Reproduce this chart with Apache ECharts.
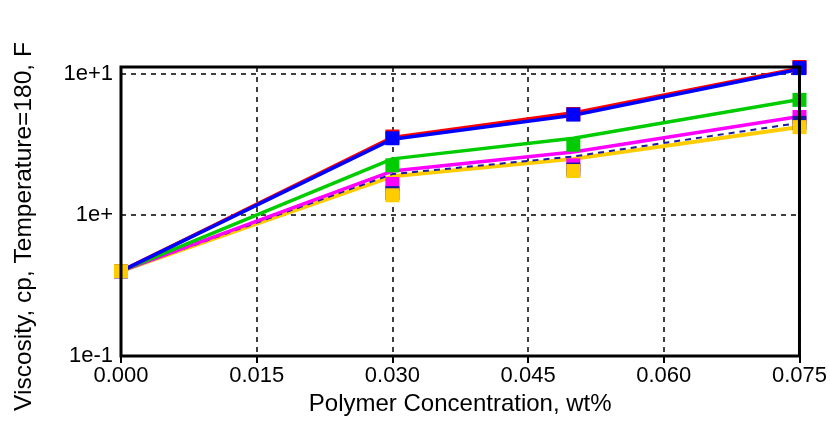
<!DOCTYPE html>
<html>
<head>
<meta charset="utf-8">
<script src="https://cdn.jsdelivr.net/npm/echarts@6/dist/echarts.min.js"></script>
<style>html,body{margin:0;padding:0;background:#fff;}#c{width:830px;height:421px;}</style>
</head>
<body>
<div id="c"></div>
<script>
const xValues = [0, 0.03, 0.05, 0.075];
const xTicks = [0, 0.015, 0.03, 0.045, 0.06, 0.075];
const yTickLabels = {"0.1": "1e-1", "1": "1e+", "10": "1e+1"};

// fitted lines
const lineRed     = [0.4, 3.55, 5.3, 11.0];
const lineBlue    = [0.4, 3.45, 5.1, 10.8];
const lineGreen   = [0.4, 2.5, 3.5, 6.6];
const lineMagenta = [0.4, 2.05, 2.8, 5.0];
const lineNavy    = [0.4, 1.95, 2.6, 4.5];
const lineYellow  = [0.4, 1.88, 2.5, 4.2];

// measured points
const ptRed     = [0.4, 3.6, 5.2, 11.2];
const ptBlue    = [0.4, 3.5, 5.15, 11.0];
const ptGreen   = [0.4, 2.25, 3.15, 6.55];
const ptMagenta = [0.4, 1.66, 2.25, 4.95];
const ptNavy    = [0.4, 1.43, 2.1, 4.5];
const ptYellow  = [0.4, 1.38, 2.05, 4.2];

const FONT = "'Liberation Sans', Arial, sans-serif";
const pair = arr => arr.map((v, i) => [xValues[i], v]);

function line(name, data, color, width, dashed) {
  return {
    name, type: 'line', data: pair(data), showSymbol: false, symbol: 'none',
    lineStyle: {color, width, type: dashed ? [6, 5] : 'solid'}, z: 2, silent: true, animation: false
  };
}
function pts(name, data, color) {
  return {
    name, type: 'scatter', data: pair(data), symbol: 'rect', symbolSize: 14,
    itemStyle: {color, opacity: 1}, z: 3, silent: true, animation: false
  };
}

const chart = echarts.init(document.getElementById('c'), null, {renderer: 'canvas'});
chart.setOption({
  backgroundColor: '#fff',
  animation: false,
  grid: {left: 121, right: 29, top: 67, bottom: 64, show: true, borderColor: '#000', borderWidth: 3, backgroundColor: 'transparent', z: 5},
  xAxis: {
    type: 'value', min: 0, max: 0.075, interval: 0.015,
    name: 'Polymer Concentration, wt%', nameLocation: 'middle', nameGap: 35,
    nameTextStyle: {fontFamily: FONT, fontSize: 24, color: '#000'},
    axisLine: {show: false},
    axisTick: {show: true, length: 7, lineStyle: {color: '#000', width: 2}},
    axisLabel: {fontFamily: FONT, fontSize: 22, color: '#000', margin: 9, formatter: v => v.toFixed(3)},
    splitLine: {show: true, lineStyle: {color: '#000', width: 1.5, type: [5, 5]}}
  },
  yAxis: {
    type: 'log', logBase: 10, min: 0.1, max: 11.2,
    name: 'Viscosity, cp, Temperature=180, F', nameLocation: 'middle', nameGap: 84,
    nameTextStyle: {fontFamily: FONT, fontSize: 24.5, color: '#000', padding: [0, 30, 0, 0]},
    axisLine: {show: false},
    axisTick: {show: false},
    axisLabel: {fontFamily: FONT, fontSize: 22, color: '#000', margin: 8,
      formatter: v => { const k = String(Math.round(v * 1000) / 1000); return yTickLabels[k] || ''; }},
    splitLine: {show: true, lineStyle: {color: '#000', width: 1.5, type: [5, 5]}}
  },
  series: [
    line('Yellow fit', lineYellow, '#ffcc00', 4),
    line('Navy fit', lineNavy, '#1a1aa0', 2, true),
    line('Magenta fit', lineMagenta, '#ff00ff', 3.5),
    line('Green fit', lineGreen, '#00cc00', 3.5),
    line('Red fit', lineRed, '#ff0000', 3.5),
    line('Blue fit', lineBlue, '#0000ff', 3.5),
    pts('Red', ptRed, '#ff0000'),
    pts('Blue', ptBlue, '#0000ff'),
    pts('Green', ptGreen, '#00cc00'),
    pts('Magenta', ptMagenta, '#ff00ff'),
    pts('Navy', ptNavy, '#1a1aa0'),
    pts('Yellow', ptYellow, '#ffcc00')
  ]
});
</script>
</body>
</html>
